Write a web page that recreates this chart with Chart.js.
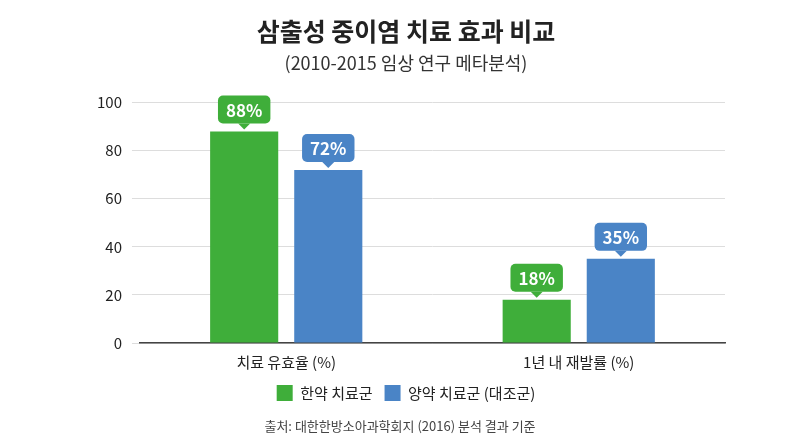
<!DOCTYPE html>
<html>
<head>
<meta charset="utf-8">
<script src="https://cdn.jsdelivr.net/npm/chart.js@4"></script>
<style>
  html, body { margin: 0; padding: 0; background: #fff; }
  #wrap { width: 800px; height: 441px; position: relative; }
</style>
</head>
<body>
<div id="wrap"><canvas id="c" width="800" height="441"></canvas></div>
<script>
// ---- data ----
const categories = ['치료 유효율 (%)', '1년 내 재발률 (%)'];
const seriesNames = ['한약 치료군', '양약 치료군 (대조군)'];
const herbalValues = [88, 18];
const westernValues = [72, 35];
const yTicks = [0, 20, 40, 60, 80, 100];

const GREEN = '#3fae3a';
const BLUE = '#4a84c6';
const FONT = "'Noto Sans CJK KR', 'Noto Sans', sans-serif";

// callout boxes above each bar
const calloutPlugin = {
    id: 'callouts',
    afterDatasetsDraw(chart) {
        const ctx = chart.ctx;
        chart.data.datasets.forEach((ds, di) => {
            chart.getDatasetMeta(di).data.forEach((bar, i) => {
                const text = ds.data[i] + '%';
                ctx.save();
                ctx.font = '600 17px ' + FONT;
                const w = ctx.measureText(text).width + 16;
                const h = 28;
                const x = bar.x - w / 2;
                const y = bar.y - h - 8;
                ctx.fillStyle = ds.backgroundColor;
                ctx.beginPath();
                ctx.roundRect(x, y, w, h, 5);
                ctx.fill();
                ctx.beginPath();
                ctx.moveTo(bar.x - 6, y + h);
                ctx.lineTo(bar.x + 6, y + h);
                ctx.lineTo(bar.x, y + h + 6);
                ctx.closePath();
                ctx.fill();
                ctx.fillStyle = '#fff';
                ctx.textAlign = 'center';
                ctx.textBaseline = 'middle';
                ctx.fillText(text, bar.x, y + h / 2 + 1);
                ctx.restore();
            });
        });
    }
};

new Chart(document.getElementById('c'), {
    type: 'bar',
    data: {
        labels: categories,
        datasets: [
            { label: seriesNames[0], data: herbalValues, backgroundColor: GREEN },
            { label: seriesNames[1], data: westernValues, backgroundColor: BLUE }
        ]
    },
    options: {
        responsive: false,
        animation: false,
        layout: { padding: { left: 87, right: 75, top: 4, bottom: 30 } },
        datasets: { bar: { categoryPercentage: 0.575, barPercentage: 0.81 } },
        plugins: {
            title: {
                display: true,
                text: ['삼출성 중이염 치료 효과 비교'],
                font: { family: FONT, size: 25, weight: 'bold' },
                color: '#222',
                padding: { top: 12, bottom: 0 }
            },
            subtitle: {
                display: true,
                text: '(2010-2015 임상 연구 메타분석)',
                font: { family: FONT, size: 18 },
                color: '#333',
                padding: { top: 6, bottom: 29 }
            },
            legend: {
                position: 'bottom',
                labels: {
                    font: { family: FONT, size: 15 },
                    color: '#222',
                    boxWidth: 16, boxHeight: 16,
                    padding: 12
                }
            },
            tooltip: { enabled: false }
        },
        scales: {
            x: {
                grid: { display: false },
                border: { color: '#444', width: 1.5 },
                ticks: { font: { family: FONT, size: 15 }, color: '#222', padding: 2 }
            },
            y: {
                min: 0, max: 100,
                afterBuildTicks: axis => { axis.ticks = yTicks.map(v => ({ value: v })); },
                grid: { color: '#dddddd' },
                border: { display: false },
                ticks: { font: { family: FONT, size: 15 }, color: '#222', padding: 10 }
            }
        }
    },
    plugins: [calloutPlugin, {
        id: 'footnote',
        afterDraw(chart) {
            const ctx = chart.ctx;
            ctx.save();
            ctx.font = '13px ' + FONT;
            ctx.fillStyle = '#444';
            ctx.textAlign = 'center';
            ctx.fillText('출처: 대한한방소아과학회지 (2016) 분석 결과 기준', 400, 426);
            ctx.restore();
        }
    }]
});
</script>
</body>
</html>
